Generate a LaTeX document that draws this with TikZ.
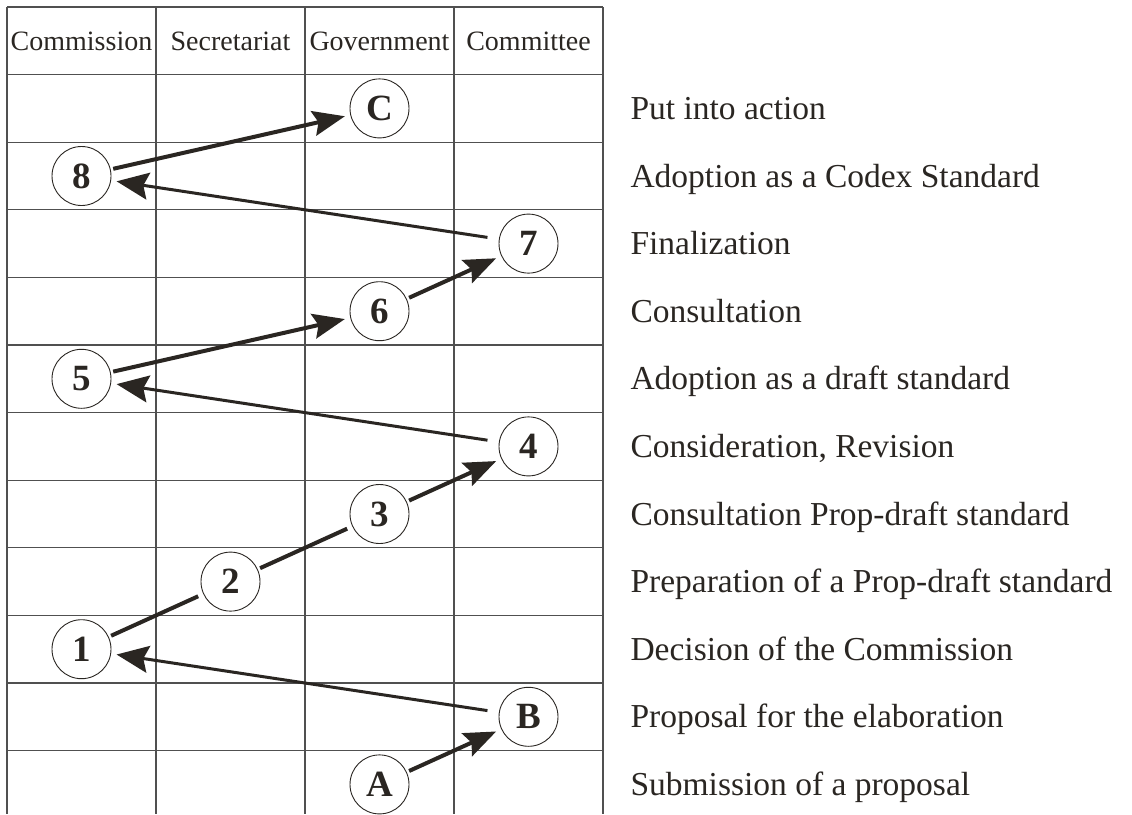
\documentclass[tikz,border=0pt]{standalone}
\usepackage{fontspec}
\setmainfont{Liberation Serif}
\usepackage{tikz}
\usetikzlibrary{arrows.meta}

\definecolor{ink}{HTML}{2A2622}
\definecolor{rule}{HTML}{505050}

\begin{document}
\begin{tikzpicture}[x=1pt, y=-1pt,
	gridline/.style = {rule, line width=1.1pt},
	head/.style = {font=\fontsize{28}{30}\selectfont, text=ink},
	stage/.style = {anchor=base west, font=\fontsize{33.5}{36}\selectfont, text=ink},
	stepnode/.style = {circle, draw=ink, line width=0.9pt, minimum size=59pt, inner sep=0pt,
		outer sep=3pt, font=\fontsize{37}{38}\selectfont\bfseries, text=ink},
	fwd/.style = {ink, line width=4pt, -{Stealth[length=32pt, width=25pt, inset=5pt]}, shorten >=3pt},
	back/.style = {ink, line width=3pt, -{Stealth[length=32pt, width=27pt, inset=5pt]}, shorten <=9pt, shorten >=3pt}]
	\useasboundingbox (0,0) rectangle (1132,814);

	% table
	\foreach \r in {0,...,11}
		\draw [gridline] (7,7+67.6*\r) -- (603,7+67.6*\r);
	\foreach \c in {0,...,4}
		\draw [gridline] (7+149*\c,7) -- (7+149*\c,814);

	\node [head] (hcom) at (81.5,41) {Commission};
	\node [head] (hsec) at (230.5,41) {Secretariat};
	\node [head] (hgov) at (379.5,41) {Government};
	\node [head] (hcte) at (528.5,41) {Committee};

	% steps
	\node [stepnode] (sC) at (379.5,108.4) {C};
	\node [stepnode] (s8) at (81.5,176.0) {8};
	\node [stepnode] (s7) at (528.5,243.6) {7};
	\node [stepnode] (s6) at (379.5,311.2) {6};
	\node [stepnode] (s5) at (81.5,378.8) {5};
	\node [stepnode] (s4) at (528.5,446.4) {4};
	\node [stepnode] (s3) at (379.5,514.0) {3};
	\node [stepnode] (s2) at (230.5,581.6) {2};
	\node [stepnode] (s1) at (81.5,649.2) {1};
	\node [stepnode] (sB) at (528.5,716.8) {B};
	\node [stepnode] (sA) at (379.5,784.4) {A};

	\draw [fwd] (sA) -- (sB);
	\draw [back] (sB) -- (s1);
	\draw [fwd, -] (s1) -- (s2);
	\draw [fwd, -] (s2) -- (s3);
	\draw [fwd] (s3) -- (s4);
	\draw [back] (s4) -- (s5);
	\draw [fwd] (s5) -- (s6);
	\draw [fwd] (s6) -- (s7);
	\draw [back] (s7) -- (s8);
	\draw [fwd] (s8) -- (sC);

	% stage names
	\node [stage] (lC) at (627,119.4) {Put into action};
	\node [stage] (l8) at (627,187.0) {Adoption as a Codex Standard};
	\node [stage] (l7) at (627,254.6) {Finalization};
	\node [stage] (l6) at (627,322.2) {Consultation};
	\node [stage] (l5) at (627,389.8) {Adoption as a draft standard};
	\node [stage] (l4) at (627,457.4) {Consideration, Revision};
	\node [stage] (l3) at (627,525.0) {Consultation Prop-draft standard};
	\node [stage] (l2) at (627,592.6) {Preparation of a Prop-draft standard};
	\node [stage] (l1) at (627,660.2) {Decision of the Commission};
	\node [stage] (lB) at (627,727.8) {Proposal for the elaboration};
	\node [stage] (lA) at (627,795.4) {Submission of a proposal};
\end{tikzpicture}
\end{document}
